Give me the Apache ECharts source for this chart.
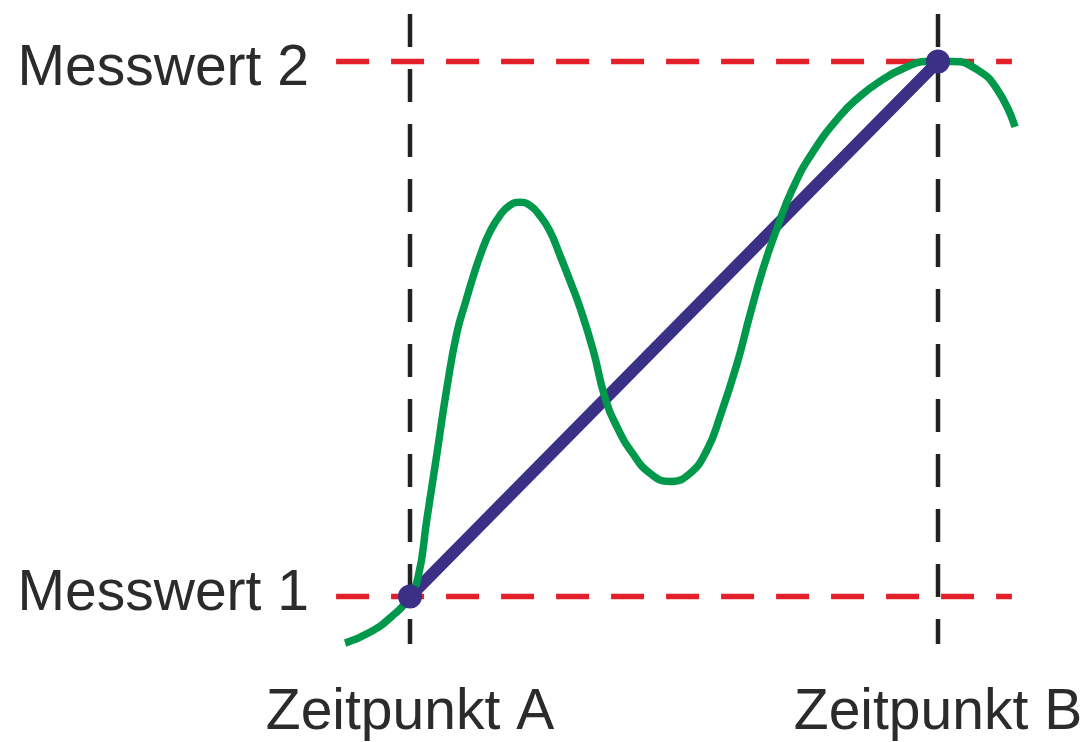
<!DOCTYPE html>
<html>
<head>
<meta charset="utf-8">
<script src="https://cdn.jsdelivr.net/npm/echarts@6/dist/echarts.min.js"></script>
<style>
html,body{margin:0;padding:0;background:#fff;}
#chart{width:1088px;height:742px;}
</style>
</head>
<body>
<div id="chart"></div>
<script>
// time axis: Zeitpunkt A = 0, Zeitpunkt B = 1 ; value axis: Messwert 1 = 0, Messwert 2 = 1
const xTickValues = [0, 1];
const xTickLabels = ['Zeitpunkt A', 'Zeitpunkt B'];
const yTickValues = [0, 1];
const yTickLabels = ['Messwert 1', 'Messwert 2'];

// measured points (blue straight connection)
const measured = [[0, 0], [1, 1]];

const signalT = [-0.123, -0.076, -0.032, -0.004, 0.015, 0.032, 0.051, 0.070, 0.089, 0.106, 0.119, 0.136, 0.152, 0.170, 0.189, 0.208, 0.227, 0.246, 0.265, 0.284, 0.303, 0.322, 0.347, 0.369, 0.392, 0.422, 0.455, 0.492, 0.530, 0.563, 0.587, 0.619, 0.644, 0.669, 0.695, 0.725, 0.763, 0.814, 0.852, 0.890, 0.934, 0.979, 1.028, 1.074, 1.112, 1.146];
const signalV = [-0.087, -0.067, -0.035, -0.004, 0.035, 0.145, 0.267, 0.391, 0.494, 0.553, 0.596, 0.646, 0.683, 0.712, 0.731, 0.737, 0.731, 0.712, 0.683, 0.638, 0.590, 0.540, 0.460, 0.373, 0.317, 0.267, 0.230, 0.215, 0.230, 0.275, 0.336, 0.434, 0.527, 0.614, 0.688, 0.763, 0.831, 0.898, 0.935, 0.963, 0.987, 1.000, 1.000, 0.985, 0.948, 0.878];

// reference line extents
const vRefRange = [1.089, -0.089];  // vertical black dashed lines (top to bottom)
const hRefRange = [-0.140, 1.140];  // horizontal red dashed lines (left to right)

const signal = signalT.map((t, i) => [t, signalV[i]]);

const xMin = -0.18, xMax = 1.28, yMin = -0.1, yMax = 1.1;
const pxX = 528, pxY = 539;
const gridLeft = 410 - (0 - xMin) * pxX;
const gridTop = 62 - (yMax - 1) * pxY;

const textColor = '#2b2b2b';
const font = 'Liberation Sans, Arial, Helvetica, sans-serif';

const series = [];
xTickValues.forEach(t => {
  series.push({
    type: 'line', data: [[t, vRefRange[0]], [t, vRefRange[1]]],
    symbol: 'none', silent: true, z: 1,
    lineStyle: { color: '#222222', width: 4.5, type: [33, 22], cap: 'butt' }
  });
});
yTickValues.forEach(v => {
  series.push({
    type: 'line', data: [[hRefRange[0], v], [hRefRange[1], v]],
    symbol: 'none', silent: true, z: 2,
    lineStyle: { color: '#e3202a', width: 5.5, type: [33, 22], cap: 'butt' }
  });
});
series.push({
  type: 'line', data: measured, symbol: 'none', z: 3,
  lineStyle: { color: '#3a3187', width: 12 }
});
series.push({
  type: 'line', data: signal, symbol: 'none', smooth: 0.5, z: 4,
  lineStyle: { color: '#00984a', width: 7.5, cap: 'butt', join: 'round' }
});
series.push({
  type: 'scatter', data: measured, symbolSize: 24, z: 5,
  itemStyle: { color: '#3a3187', opacity: 1 }
});

const chart = echarts.init(document.getElementById('chart'), null, { renderer: 'canvas' });
chart.setOption({
  animation: false,
  backgroundColor: '#ffffff',
  grid: { left: gridLeft, top: gridTop, width: (xMax - xMin) * pxX, height: (yMax - yMin) * pxY, containLabel: false },
  xAxis: {
    type: 'value', min: xMin, max: xMax,
    axisLine: { show: false }, axisTick: { show: false }, splitLine: { show: false },
    axisLabel: {
      customValues: xTickValues,
      formatter: v => xTickLabels[xTickValues.indexOf(v)] || '',
      fontSize: 57, lineHeight: 57, color: textColor, fontFamily: font, margin: 35
    }
  },
  yAxis: {
    type: 'value', min: yMin, max: yMax,
    axisLine: { show: false }, axisTick: { show: false }, splitLine: { show: false },
    axisLabel: {
      customValues: yTickValues,
      formatter: v => {
        const i = yTickValues.indexOf(v);
        return i < 0 ? '' : '{m' + i + '|' + yTickLabels[i] + '}';
      },
      rich: {
        m0: { fontSize: 57, lineHeight: 57, color: textColor, fontFamily: font, padding: [0, 0, 5, 0] },
        m1: { fontSize: 57, lineHeight: 57, color: textColor, fontFamily: font, padding: [16, 0, 0, 0] }
      },
      fontSize: 57, color: textColor, fontFamily: font, margin: 6
    }
  },
  series: series
});
</script>
</body>
</html>
